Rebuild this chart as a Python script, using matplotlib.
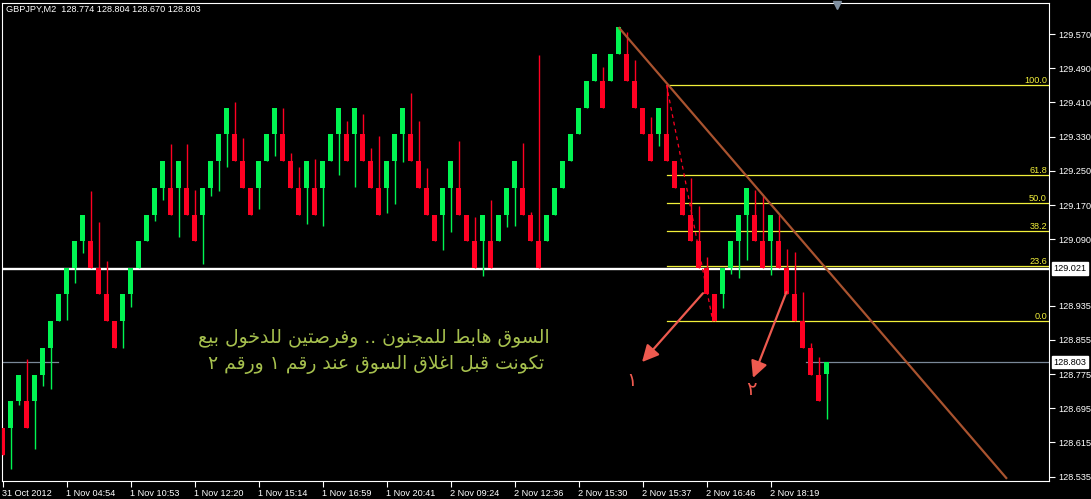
import matplotlib
matplotlib.use('Agg')
import matplotlib.pyplot as plt
from matplotlib import transforms
import numpy as np

# ---------------- data ----------------
title_text = "GBPJPY,M2  128.774 128.804 128.670 128.803"

opens = [128.648, 128.648, 128.711, 128.711, 128.711, 128.773, 128.836, 128.898, 128.961, 129.023,
         129.086, 129.086, 129.023, 128.961, 128.898, 128.898, 128.961, 129.023, 129.086, 129.148,
         129.211, 129.211, 129.211, 129.211, 129.148, 129.148, 129.211, 129.273, 129.336, 129.336,
         129.273, 129.211, 129.211, 129.273, 129.336, 129.336, 129.273, 129.211, 129.211, 129.211,
         129.211, 129.273, 129.336, 129.336, 129.336, 129.336, 129.273, 129.211, 129.211, 129.273,
         129.336, 129.336, 129.273, 129.211, 129.148, 129.148, 129.211, 129.211, 129.148, 129.086,
         129.086, 129.086, 129.086, 129.148, 129.211, 129.211, 129.148, 129.086, 129.086, 129.148,
         129.211, 129.273, 129.336, 129.398, 129.461, 129.461, 129.461, 129.523, 129.523, 129.461,
         129.398, 129.336, 129.336, 129.336, 129.273, 129.211, 129.148, 129.086, 129.023, 128.961,
         128.961, 129.023, 129.086, 129.148, 129.148, 129.086, 129.086, 129.086, 129.023, 128.961,
         128.898, 128.836, 128.773, 128.774]
closes = [128.586, 128.711, 128.773, 128.648, 128.773, 128.836, 128.898, 128.961, 129.023, 129.086,
          129.148, 129.023, 128.961, 128.898, 128.836, 128.961, 129.023, 129.086, 129.148, 129.211,
          129.273, 129.148, 129.273, 129.148, 129.086, 129.211, 129.273, 129.336, 129.398, 129.273,
          129.211, 129.148, 129.273, 129.336, 129.398, 129.273, 129.211, 129.148, 129.273, 129.148,
          129.273, 129.336, 129.398, 129.273, 129.398, 129.273, 129.211, 129.148, 129.273, 129.336,
          129.398, 129.273, 129.211, 129.148, 129.086, 129.211, 129.273, 129.148, 129.086, 129.023,
          129.148, 129.023, 129.148, 129.211, 129.273, 129.148, 129.086, 129.023, 129.148, 129.211,
          129.273, 129.336, 129.398, 129.461, 129.523, 129.398, 129.523, 129.586, 129.461, 129.398,
          129.336, 129.273, 129.398, 129.273, 129.211, 129.148, 129.086, 129.023, 128.961, 128.898,
          129.023, 129.086, 129.148, 129.211, 129.086, 129.023, 129.148, 129.023, 128.961, 128.898,
          128.836, 128.773, 128.711, 128.803]
highs = [128.648, 128.711, 128.773, 128.811, 128.773, 128.836, 128.898, 128.961, 129.023, 129.086,
         129.148, 129.204, 129.131, 129.040, 128.898, 128.961, 129.023, 129.086, 129.148, 129.211,
         129.273, 129.312, 129.273, 129.312, 129.206, 129.211, 129.273, 129.336, 129.398, 129.412,
         129.328, 129.211, 129.273, 129.336, 129.398, 129.398, 129.291, 129.259, 129.273, 129.277,
         129.273, 129.336, 129.398, 129.366, 129.398, 129.382, 129.304, 129.332, 129.273, 129.336,
         129.398, 129.431, 129.366, 129.256, 129.148, 129.211, 129.273, 129.319, 129.148, 129.143,
         129.148, 129.183, 129.148, 129.211, 129.273, 129.314, 129.154, 129.522, 129.148, 129.211,
         129.273, 129.336, 129.398, 129.461, 129.523, 129.494, 129.523, 129.586, 129.574, 129.509,
         129.398, 129.377, 129.398, 129.451, 129.273, 129.211, 129.234, 129.169, 129.049, 128.961,
         129.023, 129.086, 129.148, 129.211, 129.206, 129.192, 129.148, 129.146, 129.068, 129.061,
         128.966, 128.848, 128.816, 128.804]
lows = [128.586, 128.553, 128.703, 128.648, 128.600, 128.748, 128.739, 128.898, 128.902, 128.989,
        129.059, 129.023, 128.961, 128.898, 128.836, 128.836, 128.932, 129.023, 129.086, 129.132,
        129.183, 129.148, 129.095, 129.148, 129.086, 129.033, 129.191, 129.204, 129.259, 129.273,
        129.211, 129.148, 129.162, 129.273, 129.284, 129.273, 129.211, 129.148, 129.125, 129.148,
        129.121, 129.273, 129.240, 129.273, 129.212, 129.273, 129.211, 129.148, 129.151, 129.172,
        129.271, 129.273, 129.211, 129.148, 129.086, 129.064, 129.106, 129.148, 129.086, 129.023,
        129.004, 129.023, 129.086, 129.118, 129.121, 129.148, 129.086, 129.023, 129.086, 129.148,
        129.211, 129.273, 129.336, 129.398, 129.461, 129.398, 129.461, 129.523, 129.461, 129.398,
        129.336, 129.273, 129.309, 129.273, 129.211, 129.148, 129.086, 129.023, 128.961, 128.898,
        128.929, 129.008, 128.999, 129.042, 129.086, 129.023, 129.006, 129.023, 128.961, 128.898,
        128.836, 128.773, 128.711, 128.670]

price_ticks = [129.570, 129.490, 129.410, 129.330, 129.250, 129.170, 129.090,
               128.935, 128.855, 128.775, 128.695, 128.615, 128.535]
time_tick_bars = [0, 8, 16, 24, 32, 40, 48, 56, 64, 72, 80, 88, 96]
time_labels = ["31 Oct 2012", "1 Nov 04:54", "1 Nov 10:53", "1 Nov 12:20", "1 Nov 15:14",
               "1 Nov 16:59", "1 Nov 20:41", "2 Nov 09:24", "2 Nov 12:36", "2 Nov 15:30",
               "2 Nov 15:37", "2 Nov 16:46", "2 Nov 18:19"]

hline_price = 129.021
bid_price = 128.803

fib_high_bar, fib_high = 83, 129.451
fib_low_bar, fib_low = 88.8, 128.898
fib_ratios = [100.0, 61.8, 50.0, 38.2, 23.6, 0.0]

trend_start = (77, 129.586)
trend_end = (125.56, 128.530)

arrow1 = ((87.56, 128.964), (79.94, 128.803))
arrow2 = ((98.0, 128.967), (93.81, 128.766))
digit1 = ("\u0661", 78.6, 128.761)
digit2 = ("\u0662", 93.56, 128.738)

ar_line1 = "السوق هابط للمجنون .. وفرصتين للدخول بيع"
ar_line2 = "تكونت قبل اغلاق السوق عند رقم ١ ورقم ٢"

# --------------- Arabic shaping (presentation forms + visual order) ---------------
AR_FORMS = {
    '\u0627': ('\uFE8D', '\uFE8E', None, None),
    '\u0628': ('\uFE8F', '\uFE90', '\uFE91', '\uFE92'),
    '\u062A': ('\uFE95', '\uFE96', '\uFE97', '\uFE98'),
    '\u062C': ('\uFE9D', '\uFE9E', '\uFE9F', '\uFEA0'),
    '\u062E': ('\uFEA5', '\uFEA6', '\uFEA7', '\uFEA8'),
    '\u062F': ('\uFEA9', '\uFEAA', None, None),
    '\u0631': ('\uFEAD', '\uFEAE', None, None),
    '\u0633': ('\uFEB1', '\uFEB2', '\uFEB3', '\uFEB4'),
    '\u0635': ('\uFEB9', '\uFEBA', '\uFEBB', '\uFEBC'),
    '\u0637': ('\uFEC1', '\uFEC2', '\uFEC3', '\uFEC4'),
    '\u0639': ('\uFEC9', '\uFECA', '\uFECB', '\uFECC'),
    '\u063A': ('\uFECD', '\uFECE', '\uFECF', '\uFED0'),
    '\u0641': ('\uFED1', '\uFED2', '\uFED3', '\uFED4'),
    '\u0642': ('\uFED5', '\uFED6', '\uFED7', '\uFED8'),
    '\u0643': ('\uFED9', '\uFEDA', '\uFEDB', '\uFEDC'),
    '\u0644': ('\uFEDD', '\uFEDE', '\uFEDF', '\uFEE0'),
    '\u0645': ('\uFEE1', '\uFEE2', '\uFEE3', '\uFEE4'),
    '\u0646': ('\uFEE5', '\uFEE6', '\uFEE7', '\uFEE8'),
    '\u0647': ('\uFEE9', '\uFEEA', '\uFEEB', '\uFEEC'),
    '\u0648': ('\uFEED', '\uFEEE', None, None),
    '\u064A': ('\uFEF1', '\uFEF2', '\uFEF3', '\uFEF4'),
}


def shape_ar(s):
    chars = list(s)
    n = len(chars)

    def is_ar(c):
        return c in AR_FORMS

    def dual(c):
        return c in AR_FORMS and AR_FORMS[c][2] is not None

    res = []
    i = 0
    while i < n:
        c = chars[i]
        if not is_ar(c):
            res.append(c)
            i += 1
            continue
        prev = chars[i - 1] if i > 0 else None
        join_prev = prev is not None and dual(prev)
        if c == '\u0644' and i + 1 < n and chars[i + 1] == '\u0627':
            res.append('\uFEFC' if join_prev else '\uFEFB')
            i += 2
            continue
        nxt = chars[i + 1] if i + 1 < n else None
        join_next = dual(c) and nxt is not None and is_ar(nxt)
        iso, fin, ini, med = AR_FORMS[c]
        if join_prev and join_next:
            f = med
        elif join_prev:
            f = fin
        elif join_next:
            f = ini
        else:
            f = iso
        res.append(f)
        i += 1
    return ''.join(reversed(res))


# ---------------- figure ----------------
W, H = 1091, 499
SMALL = dict(family='Liberation Sans', size=6.6)
GREEN = '#00F552'
RED = '#FF0022'
FIB = '#F2F03A'
BROWN = '#A9532F'
ARROW = '#EE5A4F'
ARTXT = '#A6C04E'
GRAY = '#7A8898'

fig = plt.figure(figsize=(W / 100, H / 100), dpi=100, facecolor='black')
Lp, Rp, Tp, Bp = 1.5, 1048.5, 2.5, 480.5
ax = fig.add_axes([Lp / W, 1 - Bp / H, (Rp - Lp) / W, (Bp - Tp) / H])
ax.set_facecolor('black')

k = (129.570 - 128.535) / (476.7 - 34.0)
ax.set_xlim((Lp - 2.5) / 8, (Rp - 2.5) / 8)
ax.set_ylim(129.570 - (Bp - 34) * k, 129.570 + (34 - Tp) * k)

for s in ax.spines.values():
    s.set_color('white')
    s.set_linewidth(0.8)

o = np.array(opens)
c = np.array(closes)
hi = np.array(highs)
lo = np.array(lows)
idx = np.arange(len(o))
cols = np.where(c >= o, GREEN, RED)

# horizontal white line
ax.axhline(hline_price, color='white', lw=1.7, zorder=2)

# fib levels
fib_prices = [fib_low + r / 100.0 * (fib_high - fib_low) for r in fib_ratios]
xr = ax.get_xlim()[1]
blend = transforms.blended_transform_factory(ax.transAxes, ax.transData)
for r, p in zip(fib_ratios, fib_prices):
    ax.plot([fib_high_bar, xr], [p, p], color=FIB, lw=0.9, zorder=3)
    ax.text(0.9985, p, f"{r:.1f}", transform=blend, ha='right', va='bottom',
            color=FIB, fontdict=SMALL, zorder=6)

# bid line segments
ax.plot([0, 6.94], [bid_price, bid_price], color=GRAY, lw=0.9, zorder=2)
ax.plot([100.4, xr], [bid_price, bid_price], color=GRAY, lw=0.9, zorder=2)

# candles
ax.vlines(idx, lo, hi, colors=cols, lw=1.0, zorder=4)
ax.bar(idx, np.abs(c - o), bottom=np.minimum(o, c), width=0.66, color=cols,
       linewidth=0, zorder=5)

# trendlines
ax.plot([trend_start[0], trend_end[0]], [trend_start[1], trend_end[1]],
        color=BROWN, lw=1.6, zorder=6, solid_capstyle='butt')
ax.plot([fib_high_bar, fib_low_bar], [fib_high, fib_low], color=RED, lw=0.9,
        ls=(0, (3, 3)), zorder=6)

# arrows & digits
for (start, end) in (arrow1, arrow2):
    ax.annotate('', xy=end, xytext=start,
                arrowprops=dict(arrowstyle='-|>,head_length=1.0,head_width=0.5',
                                color=ARROW, lw=1.6, shrinkA=0, shrinkB=0),
                zorder=7)
for (txt, xx, yy) in (digit1, digit2):
    ax.text(xx, yy, txt, color=ARROW, fontsize=14, family='DejaVu Sans',
            ha='center', va='center', zorder=7)

# Arabic text
ax.text((374 - 2.5) / 8, 129.570 - (338 - 34) * k, shape_ar(ar_line1), color=ARTXT,
        fontsize=13.5, family='DejaVu Sans', ha='center', va='center', zorder=7)
ax.text((376 - 2.5) / 8, 129.570 - (364 - 34) * k, shape_ar(ar_line2), color=ARTXT,
        fontsize=13.5, family='DejaVu Sans', ha='center', va='center', zorder=7)

# axes ticks
ax.yaxis.tick_right()
ax.set_yticks(price_ticks)
ax.set_yticklabels([f"{v:.3f}" for v in price_ticks], fontdict=SMALL)
ax.tick_params(axis='y', which='both', direction='out', length=4, width=0.8,
               color='white', labelcolor='white', pad=3)
ax.set_xticks(time_tick_bars)
ax.set_xticklabels(time_labels, fontdict=SMALL, ha='left')
ax.tick_params(axis='x', direction='out', length=4, width=0.8, color='white',
               labelcolor='white', pad=2)

# boxed price labels
for p in (hline_price, bid_price):
    ax.text(1 + 5.0 / (Rp - Lp), p, f"{p:.3f}", transform=blend, ha='left', va='center',
            color='black', fontdict=SMALL, zorder=8, clip_on=False,
            bbox=dict(boxstyle='square,pad=0.2', fc='white', ec='white'))

# markers
ax.plot([(837 - Lp) / (Rp - Lp)], [1 - (4.5 - Tp) / (Bp - Tp)], marker='v', ms=6,
        color='#7F8FA0', transform=ax.transAxes, clip_on=False, zorder=9)

# title
fig.text(6 / W, 1 - 5 / H, title_text, color='white', ha='left', va='top', fontdict=SMALL)

fig.savefig('out.png', dpi=100, facecolor='black')
